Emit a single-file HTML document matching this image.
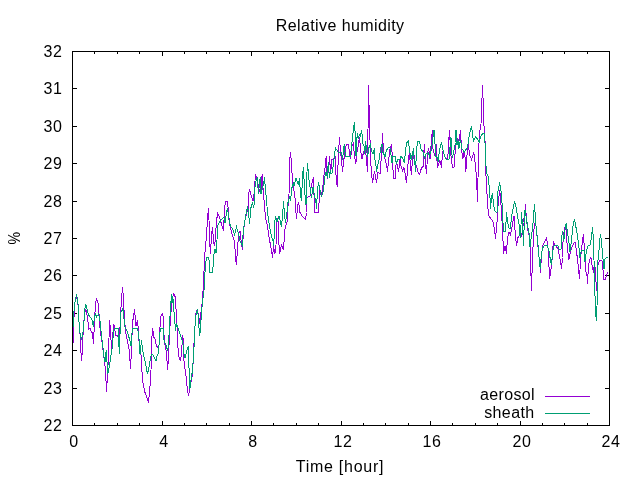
<!DOCTYPE html>
<html lang="en"><head><meta charset="utf-8"><title>Relative humidity</title>
<style>html,body{margin:0;padding:0;background:#fff;overflow:hidden}svg{display:block}text{font-family:"Liberation Sans", sans-serif;font-size:16px;fill:#000}</style></head><body>
<svg width="640" height="480" viewBox="0 0 640 480">
<rect width="640" height="480" fill="#fff"/>
<path d="M72.5 425.5h4.5M609.5 425.5h-4.5M72.5 388.5h4.5M609.5 388.5h-4.5M72.5 350.5h4.5M609.5 350.5h-4.5M72.5 313.5h4.5M609.5 313.5h-4.5M72.5 275.5h4.5M609.5 275.5h-4.5M72.5 238.5h4.5M609.5 238.5h-4.5M72.5 201.5h4.5M609.5 201.5h-4.5M72.5 163.5h4.5M609.5 163.5h-4.5M72.5 126.5h4.5M609.5 126.5h-4.5M72.5 88.5h4.5M609.5 88.5h-4.5M72.5 51.5h4.5M609.5 51.5h-4.5M72.5 425.5v-4.5M72.5 51.5v4.5M94.5 425.5v-2.5M94.5 51.5v2.5M117.5 425.5v-2.5M117.5 51.5v2.5M139.5 425.5v-2.5M139.5 51.5v2.5M162.5 425.5v-4.5M162.5 51.5v4.5M184.5 425.5v-2.5M184.5 51.5v2.5M206.5 425.5v-2.5M206.5 51.5v2.5M229.5 425.5v-2.5M229.5 51.5v2.5M251.5 425.5v-4.5M251.5 51.5v4.5M273.5 425.5v-2.5M273.5 51.5v2.5M296.5 425.5v-2.5M296.5 51.5v2.5M318.5 425.5v-2.5M318.5 51.5v2.5M341.5 425.5v-4.5M341.5 51.5v4.5M363.5 425.5v-2.5M363.5 51.5v2.5M385.5 425.5v-2.5M385.5 51.5v2.5M408.5 425.5v-2.5M408.5 51.5v2.5M430.5 425.5v-4.5M430.5 51.5v4.5M452.5 425.5v-2.5M452.5 51.5v2.5M475.5 425.5v-2.5M475.5 51.5v2.5M497.5 425.5v-2.5M497.5 51.5v2.5M520.5 425.5v-4.5M520.5 51.5v4.5M542.5 425.5v-2.5M542.5 51.5v2.5M564.5 425.5v-2.5M564.5 51.5v2.5M587.5 425.5v-2.5M587.5 51.5v2.5M609.5 425.5v-4.5M609.5 51.5v4.5" stroke="#000" stroke-width="1" fill="none" shape-rendering="crispEdges"/>
<text x="62.5" y="430.5" text-anchor="end" letter-spacing="0.6">22</text>
<text x="62.5" y="393.5" text-anchor="end" letter-spacing="0.6">23</text>
<text x="62.5" y="355.5" text-anchor="end" letter-spacing="0.6">24</text>
<text x="62.5" y="318.5" text-anchor="end" letter-spacing="0.6">25</text>
<text x="62.5" y="280.5" text-anchor="end" letter-spacing="0.6">26</text>
<text x="62.5" y="243.5" text-anchor="end" letter-spacing="0.6">27</text>
<text x="62.5" y="206.5" text-anchor="end" letter-spacing="0.6">28</text>
<text x="62.5" y="168.5" text-anchor="end" letter-spacing="0.6">29</text>
<text x="62.5" y="131.5" text-anchor="end" letter-spacing="0.6">30</text>
<text x="62.5" y="93.5" text-anchor="end" letter-spacing="0.6">31</text>
<text x="62.5" y="56.5" text-anchor="end" letter-spacing="0.6">32</text>
<text x="74.1" y="447" text-anchor="middle" letter-spacing="0.6">0</text>
<text x="164.1" y="447" text-anchor="middle" letter-spacing="0.6">4</text>
<text x="253.1" y="447" text-anchor="middle" letter-spacing="0.6">8</text>
<text x="343.1" y="447" text-anchor="middle" letter-spacing="0.6">12</text>
<text x="432.1" y="447" text-anchor="middle" letter-spacing="0.6">16</text>
<text x="522.1" y="447" text-anchor="middle" letter-spacing="0.6">20</text>
<text x="611.1" y="447" text-anchor="middle" letter-spacing="0.6">24</text>
<text x="340.1" y="30.5" text-anchor="middle" letter-spacing="0.41">Relative humidity</text>
<text x="340" y="472" text-anchor="middle" letter-spacing="0.73">Time [hour]</text>
<text transform="translate(20,238.3) rotate(-90) scale(0.89,1)" text-anchor="middle">%</text>
<path d="M73.0 344.0L74.0 318.0L74.5 304.0L76.5 296.0L78.5 308.0L79.0 322.0L80.0 334.0L80.5 345.0L81.5 361.0L82.5 350.0L83.0 335.0L83.5 325.0L84.5 316.0L85.5 309.0L86.5 312.0L87.5 318.0L88.8 329.0L90.0 328.0L91.0 331.0L92.5 333.0L93.5 344.0L94.5 321.0L95.5 304.0L96.5 298.0L98.5 305.0L99.5 322.0L100.5 333.0L101.5 338.0L102.5 346.0L104.5 362.0L105.5 369.0L106.5 392.0L107.5 374.0L108.5 356.0L109.5 320.0L110.5 330.0L111.5 349.0L112.5 340.0L113.5 324.0L114.5 327.0L115.5 335.0L117.5 336.0L119.5 340.0L120.5 315.0L121.5 300.0L122.5 287.0L123.5 298.0L124.5 321.0L126.0 334.0L128.0 344.0L129.5 352.0L130.5 369.0L131.5 350.0L132.5 321.0L133.5 318.0L134.5 309.0L136.0 326.0L137.5 320.0L138.5 332.0L139.5 350.0L141.2 356.0L142.5 381.0L145.0 392.5L146.5 396.0L148.5 403.0L149.5 392.0L150.5 380.0L151.0 370.0L151.8 345.0L152.2 328.0L153.0 331.0L154.0 337.5L155.0 339.0L156.5 346.0L158.0 348.0L159.0 345.0L160.0 327.5L161.0 316.0L162.2 313.5L163.0 316.0L163.5 327.0L164.0 335.0L165.0 345.0L166.0 350.0L167.0 361.0L167.5 369.5L168.5 358.0L169.0 345.0L170.0 326.0L171.0 312.0L172.5 298.0L173.4 294.0L174.5 295.0L175.6 298.0L176.0 309.0L176.5 312.0L177.0 325.0L177.5 340.0L178.5 355.0L180.2 361.0L181.0 357.0L182.0 345.0L182.5 335.0L183.0 338.0L183.5 345.0L184.0 361.0L186.0 376.0L187.5 391.0L188.5 395.5L189.5 390.0L191.2 381.0L192.5 374.0L193.5 354.0L194.5 332.0L195.0 327.0L195.5 315.0L197.0 310.0L198.5 315.0L199.5 321.0L200.3 326.0L201.0 312.0L201.5 309.0L202.5 300.0L203.8 276.0L204.8 254.0L206.5 236.0L207.5 219.0L208.5 208.0L209.0 220.0L209.5 241.0L210.5 253.5L211.5 235.0L212.5 227.5L213.5 241.0L214.5 246.0L215.0 242.5L216.2 226.0L217.5 212.5L219.5 217.5L221.5 224.0L223.5 231.0L224.5 209.0L225.5 201.0L227.5 201.0L228.8 215.0L229.5 224.0L231.5 232.5L234.5 241.0L235.5 256.0L236.2 264.5L237.0 256.0L238.0 242.0L239.0 232.5L240.0 231.0L241.5 245.0L242.5 249.5L243.5 230.0L245.0 220.0L246.5 214.0L247.5 210.0L248.5 207.0L248.5 195.0L249.5 189.0L251.0 195.0L253.0 201.0L254.0 194.0L255.0 181.0L255.2 174.0L256.0 176.0L257.0 181.0L258.0 184.0L259.0 189.0L260.5 194.0L261.0 190.0L262.0 176.0L262.2 174.0L262.5 181.0L263.5 194.0L264.5 206.0L265.5 217.5L267.5 226.0L268.8 236.0L271.2 249.0L272.5 257.5L273.5 246.0L275.0 253.5L276.0 245.0L276.5 224.0L277.5 219.5L278.5 222.0L279.0 245.0L279.5 254.0L281.5 245.0L283.2 249.5L284.0 242.5L284.8 230.0L286.2 224.0L287.0 222.5L288.0 206.0L289.0 194.0L289.5 170.0L290.2 152.0L291.0 157.5L291.5 169.0L292.5 177.5L293.0 185.0L295.0 197.5L296.0 212.5L296.5 219.4L297.5 207.5L298.5 201.6L300.0 212.5L302.0 216.0L305.5 219.4L306.5 212.5L307.0 197.5L310.0 196.0L311.0 187.5L312.5 181.0L313.5 177.5L314.0 195.0L314.5 212.5L318.5 212.5L318.7 207.5L320.0 190.0L321.5 195.0L322.5 190.0L323.5 181.0L324.5 170.0L325.0 168.0L326.2 156.0L327.0 176.0L327.5 179.0L329.0 162.5L329.5 156.0L330.5 172.5L330.8 173.0L331.5 160.0L334.0 158.0L335.0 155.0L335.5 172.0L336.5 178.0L337.2 187.0L338.5 152.5L339.5 137.0L340.5 152.0L341.5 159.0L342.5 172.0L343.8 160.0L344.5 155.0L346.0 146.0L346.2 144.4L348.5 144.4L349.0 149.0L350.5 159.4L352.0 146.0L353.2 143.5L354.5 155.0L355.8 164.0L357.0 152.5L358.5 144.0L359.5 137.0L360.5 149.0L361.8 159.4L363.5 152.5L365.0 149.0L366.0 155.0L367.0 166.0L367.5 171.5L368.0 130.0L368.5 85.0L369.0 104.0L370.0 140.0L370.5 155.0L371.0 166.0L372.0 177.5L372.5 182.5L374.5 171.0L376.5 182.5L378.0 172.5L380.0 174.0L381.0 161.0L382.0 145.0L382.5 133.0L383.5 152.5L385.0 159.0L386.5 165.0L387.5 171.5L388.5 161.0L390.0 149.0L391.5 144.0L392.5 159.0L393.0 170.0L393.5 178.0L395.5 178.0L396.0 165.0L396.8 163.0L398.5 172.0L400.0 160.0L400.2 156.0L401.0 166.0L402.5 171.0L404.0 167.5L405.5 176.0L406.5 183.0L407.5 169.0L408.5 159.0L409.5 151.6L410.5 167.5L411.5 175.0L412.5 157.5L413.2 148.5L415.0 162.5L416.5 166.0L418.0 172.0L419.5 174.4L421.5 168.0L423.5 166.0L424.0 150.0L424.5 144.0L425.5 162.5L426.5 174.4L427.5 155.0L428.5 148.0L429.5 153.0L430.0 159.0L430.5 154.0L431.5 137.5L432.5 130.0L433.0 149.0L434.8 156.0L436.0 144.0L437.0 161.0L437.5 168.0L439.5 161.0L440.5 162.0L441.5 167.5L442.5 152.5L443.0 151.0L444.5 156.0L446.2 159.0L447.5 158.0L448.5 150.0L449.0 137.5L449.5 130.0L450.5 150.0L451.5 161.0L452.5 167.5L454.0 167.5L454.5 159.0L455.5 149.0L456.5 137.5L456.8 137.0L458.5 145.0L460.0 134.0L460.5 130.0L461.5 149.0L462.8 159.4L464.0 152.0L465.5 160.0L465.8 172.0L467.0 155.0L468.0 144.4L470.0 156.0L471.5 159.4L473.8 152.5L475.5 166.0L476.5 177.5L477.5 201.5L478.0 178.0L478.5 149.0L480.0 130.0L481.0 124.0L482.0 98.0L482.5 85.0L483.0 97.5L483.5 119.0L485.0 140.0L485.5 162.0L486.5 190.0L487.0 194.0L488.0 209.0L489.0 216.0L492.5 221.0L493.5 223.0L495.0 234.0L495.5 239.0L496.0 233.0L497.0 222.5L498.0 206.0L499.5 191.0L499.8 190.6L501.0 205.0L502.0 221.0L503.0 241.0L503.5 253.5L505.0 245.6L506.5 253.5L507.5 237.5L509.0 232.0L510.5 235.0L512.5 225.0L513.5 217.5L514.0 216.0L515.0 230.0L516.5 245.6L518.0 237.5L520.0 235.0L521.5 236.0L523.5 222.5L525.0 210.0L525.5 204.4L526.5 221.0L528.0 231.0L529.5 237.0L530.5 249.0L531.0 276.0L531.5 291.0L532.5 256.0L534.0 229.0L535.0 223.0L536.0 226.0L537.0 236.0L537.5 240.0L538.5 254.0L540.0 264.0L540.5 272.5L541.5 254.0L543.0 245.0L545.0 241.0L546.5 238.0L548.0 247.5L549.0 267.0L549.5 279.0L551.0 269.0L552.0 260.0L552.5 251.0L553.5 242.0L555.5 245.6L558.0 249.0L559.5 256.0L561.0 265.0L561.5 269.0L562.5 257.5L563.0 242.5L564.0 232.5L565.0 227.0L566.5 227.0L567.0 242.5L568.0 252.5L568.8 260.0L570.5 251.0L572.5 246.0L574.5 242.5L575.0 242.0L576.5 251.0L578.0 264.0L579.5 279.4L580.5 260.0L581.0 254.0L582.5 241.0L583.5 234.0L584.5 251.0L585.5 270.0L587.0 276.0L587.5 284.0L588.5 265.0L589.5 261.0L590.8 257.0L592.0 265.0L593.5 272.5L594.5 262.0L595.5 272.0L596.5 290.6L597.5 276.0L598.0 265.0L599.5 260.6L602.0 260.6L603.0 270.0L603.5 279.4L605.5 279.4L606.5 275.0L608.0 272.5" stroke="#9400d3" stroke-width="1" fill="none" stroke-linejoin="miter" shape-rendering="crispEdges"/>
<path d="M73.0 328.0L73.5 317.0L74.5 305.0L75.5 300.0L76.5 294.0L77.5 300.0L78.5 307.0L79.0 322.0L79.5 330.0L80.5 336.0L81.5 340.0L82.5 334.0L83.5 330.0L84.5 312.0L85.5 305.0L86.5 306.0L87.5 311.0L88.5 315.0L91.0 318.0L92.0 320.0L93.5 327.0L94.5 316.0L95.5 314.0L96.5 317.0L98.5 314.0L99.5 318.0L100.5 324.0L101.5 337.0L102.5 343.0L103.8 356.0L105.0 362.0L106.2 350.0L107.0 362.0L107.5 374.0L108.5 371.0L110.0 362.0L111.5 352.0L112.5 346.0L113.5 331.0L115.0 328.0L118.0 328.0L118.5 340.0L119.5 354.0L120.0 335.0L120.5 313.0L122.5 309.0L123.5 312.0L124.5 326.0L127.5 332.0L130.0 341.0L131.0 346.0L132.0 333.0L132.5 328.0L137.5 328.0L138.5 333.0L139.5 345.0L140.0 354.0L141.5 340.0L142.5 350.0L145.0 361.0L147.5 374.0L148.5 370.0L150.0 361.0L151.0 356.0L152.2 354.0L153.0 355.0L156.0 361.0L157.0 356.0L158.0 354.0L159.0 345.0L159.5 336.0L160.5 328.0L163.0 328.0L163.2 336.0L164.5 342.5L166.0 345.0L167.5 350.5L168.5 345.0L169.5 326.0L170.5 307.5L171.5 294.0L172.0 303.0L172.5 296.0L173.4 302.0L174.0 312.0L174.7 320.0L175.5 331.0L176.5 323.0L178.0 328.0L180.0 334.0L182.0 340.0L183.0 344.0L184.0 354.0L185.0 357.5L187.0 350.0L188.2 346.0L189.0 367.5L189.5 389.0L190.5 386.0L191.5 375.0L192.5 372.0L193.5 354.0L194.5 340.0L194.7 329.0L196.0 315.0L197.5 309.5L198.0 314.0L199.0 327.5L199.5 335.6L200.5 331.0L201.2 316.0L202.5 301.0L204.0 291.0L204.5 279.0L205.5 265.0L206.5 257.5L208.5 257.5L209.0 260.0L210.0 272.5L212.5 272.5L213.0 267.0L213.8 255.0L215.0 249.0L216.0 253.0L216.5 249.0L217.0 240.0L217.5 226.0L219.5 222.0L223.8 217.0L225.0 223.0L226.5 212.5L227.5 208.0L229.0 220.0L230.5 226.0L232.5 229.0L234.5 234.5L236.5 227.0L238.5 234.0L240.0 241.0L242.2 245.0L243.5 229.0L245.0 220.0L246.5 211.0L247.5 208.0L248.5 211.0L249.5 224.0L251.0 207.5L252.5 202.5L253.5 208.0L254.5 202.0L254.5 195.0L254.5 190.0L256.0 181.0L257.2 177.5L258.5 194.0L259.5 182.5L260.2 177.5L261.0 194.0L262.0 190.0L263.5 184.0L264.5 177.5L265.5 190.0L266.5 200.0L267.5 212.5L268.5 220.0L269.5 226.0L271.2 235.0L273.0 241.0L273.8 245.6L274.5 224.0L275.5 216.0L277.0 222.0L278.5 217.0L279.0 216.0L280.5 222.5L281.5 227.0L283.0 209.0L283.5 201.0L284.5 215.0L285.5 222.5L287.0 212.0L288.0 202.5L289.5 197.5L290.5 201.0L292.0 187.5L293.5 182.5L294.0 185.6L296.0 178.0L298.5 185.0L299.5 178.0L300.5 195.0L301.5 201.0L302.5 176.0L303.5 167.0L304.5 190.0L306.0 205.0L306.8 175.0L307.5 163.0L308.8 179.0L310.5 190.0L311.5 197.5L313.0 187.5L314.5 196.0L316.0 202.5L316.5 209.0L317.5 190.0L318.5 182.0L320.0 190.0L321.5 197.0L323.5 190.0L324.5 180.0L325.5 172.5L326.0 172.0L327.5 178.0L328.2 162.0L329.5 178.0L330.5 170.0L331.0 174.0L332.5 172.5L333.5 162.5L334.5 155.0L335.5 148.0L338.5 152.5L341.5 152.5L342.5 160.0L344.2 144.0L345.5 156.0L350.5 156.0L351.5 146.0L352.5 139.0L353.5 128.0L354.5 122.0L355.5 139.0L356.0 156.0L357.2 133.0L358.2 139.0L359.5 134.5L360.5 136.0L361.5 130.0L362.5 137.0L363.0 144.0L364.0 146.0L364.8 154.0L365.5 141.0L367.0 152.5L367.5 157.0L369.0 147.5L370.5 144.0L371.5 151.0L373.0 154.0L374.5 148.0L375.0 160.0L376.0 166.0L376.5 171.5L378.0 164.0L379.5 157.5L380.5 149.0L382.0 144.0L383.0 152.5L385.0 156.5L386.5 150.0L388.5 147.5L390.0 148.0L391.0 155.0L392.0 163.0L393.0 156.0L395.5 156.0L396.2 164.0L397.5 160.0L400.0 159.4L401.2 156.0L403.5 160.0L404.5 163.0L405.5 149.0L407.0 142.5L408.2 141.0L409.5 149.0L410.5 157.5L411.2 159.4L413.5 148.5L414.0 159.0L415.0 165.0L415.5 171.5L416.5 151.0L417.5 141.0L419.5 141.0L421.0 149.0L423.5 152.5L424.5 159.0L426.0 154.0L428.5 153.0L429.5 156.0L431.5 149.0L433.0 137.5L434.0 130.0L435.0 144.0L435.5 156.0L437.0 157.5L438.2 161.5L439.5 150.0L441.0 144.0L441.5 142.0L443.0 150.0L444.5 156.0L446.0 159.0L449.0 159.0L450.0 147.5L451.0 137.5L451.5 152.5L452.5 158.0L454.0 150.0L455.5 142.5L456.0 130.0L456.2 130.0L457.0 145.0L458.5 139.0L458.8 149.0L460.5 140.0L462.0 149.0L464.5 152.0L467.0 148.0L468.0 144.0L469.0 137.5L470.5 130.0L471.5 126.0L473.0 137.5L473.5 141.0L475.5 137.0L477.5 139.0L479.2 142.0L481.0 136.0L482.5 134.0L484.0 133.0L485.0 142.5L485.5 162.5L487.0 174.0L488.5 177.5L489.0 185.0L490.0 197.5L490.5 209.0L491.5 197.5L492.5 193.0L493.5 205.0L495.0 211.0L496.8 213.0L497.5 209.0L498.0 191.0L499.0 186.0L499.5 182.0L501.0 191.0L502.0 202.5L503.0 222.5L503.8 231.0L505.5 231.0L506.0 222.5L506.5 212.0L507.5 222.5L509.0 228.0L510.5 228.0L511.5 216.0L513.0 209.0L514.5 201.0L516.0 207.0L517.5 216.0L519.0 224.0L520.0 235.6L520.5 238.0L521.0 225.0L521.5 212.0L522.5 225.0L523.5 245.6L524.0 230.0L525.0 210.0L527.0 222.5L528.5 230.0L529.5 236.0L530.0 247.0L531.5 235.0L532.5 230.0L533.5 216.0L534.5 204.4L536.0 226.0L537.5 239.0L538.5 251.0L539.5 262.5L540.2 269.0L541.5 252.5L543.0 247.5L544.5 245.0L547.0 245.0L549.0 251.0L549.5 255.0L550.0 257.5L551.5 265.0L552.5 252.5L554.0 246.0L556.0 245.0L557.5 245.0L559.0 249.0L561.0 249.0L561.5 240.0L562.5 231.0L563.8 240.6L565.0 230.0L566.2 223.0L567.5 232.5L569.0 242.5L570.0 251.5L571.5 240.0L573.0 226.0L574.5 219.0L576.0 227.5L577.5 236.0L579.0 247.5L580.0 257.5L581.5 250.0L584.0 250.0L585.0 261.5L586.5 251.0L588.0 246.0L590.0 245.0L591.0 240.0L592.0 232.5L592.5 227.0L593.5 240.0L594.0 260.0L594.5 284.0L595.5 307.5L596.2 321.0L597.0 306.0L597.5 276.0L598.0 260.0L598.5 257.5L599.5 242.5L600.5 234.0L601.5 242.5L602.5 252.5L603.5 265.0L604.0 269.0L605.0 259.0L607.5 257.0" stroke="#009e73" stroke-width="1" fill="none" stroke-linejoin="miter" shape-rendering="crispEdges"/>
<text x="534.9" y="400.4" text-anchor="end" letter-spacing="0.34">aerosol</text>
<path d="M545 396.5H590" stroke="#9400d3" stroke-width="1" fill="none"/>
<text x="534.6" y="417.9" text-anchor="end" letter-spacing="0.4">sheath</text>
<path d="M545 413.5H590" stroke="#009e73" stroke-width="1" fill="none"/>
<rect x="72.5" y="51.5" width="537.0" height="374.0" fill="none" stroke="#000" stroke-width="1" shape-rendering="crispEdges"/>
</svg></body></html>
